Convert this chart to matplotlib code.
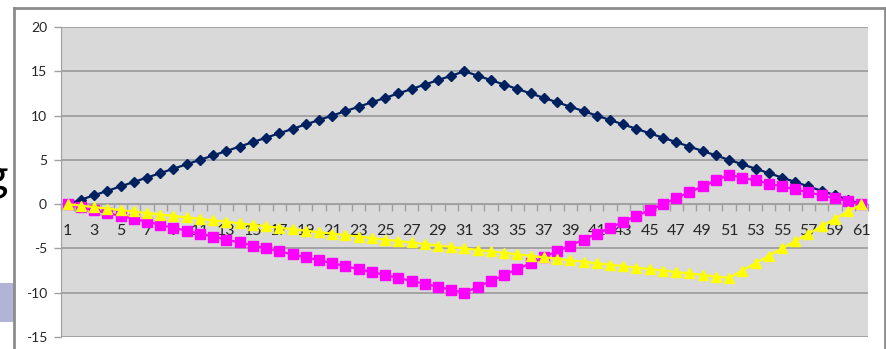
import matplotlib.pyplot as plt
from matplotlib.lines import Line2D
from matplotlib.patches import Rectangle

x_values = list(range(1, 62))

rise_fall = [0, 0.5, 1, 1.5, 2, 2.5, 3, 3.5, 4, 4.5, 5, 5.5, 6, 6.5, 7, 7.5,
             8, 8.5, 9, 9.5, 10, 10.5, 11, 11.5, 12, 12.5, 13, 13.5, 14, 14.5,
             15, 14.5, 14, 13.5, 13, 12.5, 12, 11.5, 11, 10.5, 10, 9.5, 9, 8.5,
             8, 7.5, 7, 6.5, 6, 5.5, 5, 4.5, 4, 3.5, 3, 2.5, 2, 1.5, 1, 0.5, 0]

dip_recover = [0, -0.33, -0.67, -1, -1.33, -1.67, -2, -2.33, -2.67, -3, -3.33,
               -3.67, -4, -4.33, -4.67, -5, -5.33, -5.67, -6, -6.33, -6.67, -7,
               -7.33, -7.67, -8, -8.33, -8.67, -9, -9.33, -9.67, -10,
               -9.33, -8.67, -8, -7.33, -6.67, -6, -5.33, -4.67, -4, -3.33,
               -2.67, -2, -1.33, -0.67, 0, 0.67, 1.33, 2, 2.67, 3.33,
               3, 2.67, 2.33, 2, 1.67, 1.33, 1, 0.67, 0.33, 0]

slow_drop = [0, -0.17, -0.33, -0.5, -0.67, -0.83, -1, -1.17, -1.33, -1.5, -1.67,
             -1.83, -2, -2.17, -2.33, -2.5, -2.67, -2.83, -3, -3.17, -3.33, -3.5,
             -3.67, -3.83, -4, -4.17, -4.33, -4.5, -4.67, -4.83, -5,
             -5.17, -5.33, -5.5, -5.67, -5.83, -6, -6.17, -6.33, -6.5, -6.67,
             -6.83, -7, -7.17, -7.33, -7.5, -7.67, -7.83, -8, -8.17, -8.33,
             -7.5, -6.67, -5.83, -5, -4.17, -3.33, -2.5, -1.67, -0.83, 0]

y_ticks = [20, 15, 10, 5, 0, -5, -10, -15]
x_labels = list(range(1, 62, 2))

W, H = 887, 349
plt.rcParams['font.family'] = ['Lato', 'DejaVu Sans']

fig = plt.figure(figsize=(W / 100, H / 100), dpi=100)
fig.patch.set_facecolor('white')

# chart frame and slide leftovers on the left edge
fig.add_artist(Rectangle((0, 1 - 322 / H), 14 / W, 39 / H, transform=fig.transFigure,
                         facecolor='#b2b4d5', edgecolor='none'))
fig.text(8 / W, 1 - 191 / H, 'g', ha='right', va='baseline', fontsize=34, color='black')
frame = dict(color='#8c8c8c', lw=2, transform=fig.transFigure)
fig.add_artist(Line2D([14.5 / W, 14.5 / W], [0, 1 - 8 / H], **frame))
fig.add_artist(Line2D([14.5 / W, 885 / W], [1 - 8 / H, 1 - 8 / H], **frame))
fig.add_artist(Line2D([885 / W, 885 / W], [1 - 8 / H, 0], **frame))

ax = fig.add_axes([61 / W, 12 / H, (868 - 61) / W, (337 - 27) / H])
ax.set_facecolor('#d9d9d9')

ax.plot(x_values, rise_fall, color='#002060', lw=1.6, marker='D', ms=5.5, zorder=3)
ax.plot(x_values, dip_recover, color='#ff00ff', lw=1.6, marker='s', ms=6.5, zorder=3.1)
ax.plot(x_values, slow_drop, color='#ffff00', lw=1.6, marker='^', ms=7.5, zorder=3.2)

ax.set_xlim(0.5, 61.5)
ax.set_ylim(-15, 20)

for side in ['top', 'right']:
    ax.spines[side].set_visible(False)
ax.spines['left'].set_color('#a0a0a0')
ax.spines['bottom'].set_color('#a0a0a0')
ax.spines['bottom'].set_position(('data', 0))
ax.spines['bottom'].set_zorder(2.6)

ax.set_yticks(y_ticks)
ax.set_yticklabels([str(v) for v in y_ticks])
ax.yaxis.grid(True, color='#9a9a9a', lw=1.2)
ax.set_axisbelow(True)
ax.tick_params(axis='y', length=5, width=1, color='#a0a0a0', pad=5,
               labelsize=10, labelcolor='#262626')

# category boundaries carry the tick marks, centres carry the labels
ax.set_xticks([i + 0.5 for i in range(0, 62)])
ax.set_xticklabels([])
ax.set_xticks(x_labels, minor=True)
ax.set_xticklabels([str(v) for v in x_labels], minor=True)
ax.tick_params(axis='x', which='major', length=5, width=1, color='#a0a0a0', direction='out')
ax.tick_params(axis='x', which='minor', length=0, pad=14, labelsize=11.5, labelcolor='#262626')

fig.savefig('out.png', dpi=100)
